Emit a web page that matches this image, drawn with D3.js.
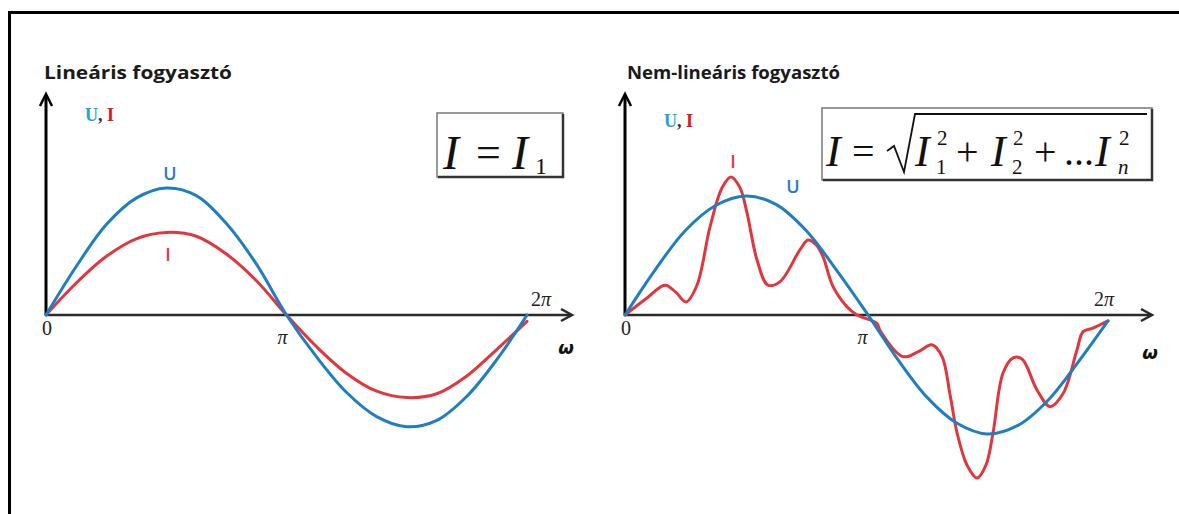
<!DOCTYPE html>
<html>
<head>
<meta charset="utf-8">
<script src="https://cdn.jsdelivr.net/npm/d3@7/dist/d3.min.js"></script>
<style>
  html, body { margin: 0; padding: 0; background: #fff; }
  svg { display: block; }
</style>
</head>
<body>
<script>
// Phase positions in multiples of π
const xTickValues = [0, 1, 2];
const xTickLabels = ["0", "π", "2π"];

// Linear load: voltage and current in phase
const linPhase = [0, 0.125, 0.25, 0.375, 0.5, 0.625, 0.75, 0.875, 1.0,
                  1.125, 1.25, 1.375, 1.5, 1.625, 1.75, 1.875, 2.0];
const linU = [0, 0.38, 0.71, 0.92, 1.0, 0.94, 0.72, 0.40, 0.0,
              -0.33, -0.61, -0.80, -0.88, -0.83, -0.64, -0.35, 0.0];
const linI = [0, 0.25, 0.46, 0.60, 0.65, 0.62, 0.48, 0.27, 0.0,
              -0.25, -0.46, -0.60, -0.65, -0.62, -0.48, -0.27, -0.05];

// Non-linear load: sinusoidal voltage, distorted current
const nonPhase = [0, 0.125, 0.25, 0.375, 0.5, 0.625, 0.75, 0.875, 1.0,
                  1.125, 1.25, 1.375, 1.5, 1.625, 1.75, 1.875, 2.0];
const nonU = [0, 0.38, 0.71, 0.92, 1.0, 0.93, 0.71, 0.38, 0.02,
              -0.36, -0.69, -0.91, -1.0, -0.93, -0.72, -0.40, -0.05];
const nonIPhase = [0, 0.083, 0.166, 0.211, 0.253, 0.298, 0.352, 0.402, 0.439,
                   0.476, 0.505, 0.547, 0.592, 0.642, 0.725, 0.758, 0.791, 0.820,
                   0.861, 0.919, 0.961, 1.043, 1.056, 1.151, 1.213, 1.271, 1.313,
                   1.346, 1.375, 1.416, 1.458, 1.495, 1.524, 1.565, 1.607, 1.644,
                   1.706, 1.760, 1.814, 1.872, 1.897, 1.938, 2.0];
const nonI = [0, 0.13, 0.25, 0.19, 0.11, 0.25, 0.74, 1.07, 1.16,
              1.07, 0.86, 0.46, 0.25, 0.28, 0.55, 0.63, 0.59, 0.49,
              0.24, 0.07, 0.0, -0.07, -0.13, -0.35, -0.31, -0.25, -0.35,
              -0.67, -0.99, -1.26, -1.37, -1.26, -0.99, -0.49, -0.36, -0.37,
              -0.63, -0.77, -0.66, -0.29, -0.14, -0.11, -0.05];

const W = 1179, H = 514;
const BLUE = "#1f7ec2", RED = "#e2363f", LBLUE = "#22a2d4";

const svg = d3.select("body").append("svg")
  .attr("width", W).attr("height", H);

// outer frame (open to the right and bottom)
svg.append("path")
  .attr("d", "M9.5,514 L9.5,12.5 L1179,12.5")
  .attr("fill", "none").attr("stroke", "#000").attr("stroke-width", 3);

const serif = "'Liberation Serif', 'Times New Roman', serif";

function panel(cfg) {
  const g = svg.append("g");
  const x = d3.scaleLinear().domain([0, 2]).range(cfg.xr);
  const y = d3.scaleLinear().domain([-1, 1]).range(cfg.yr);
  const x0 = x(0), y0 = y(0);

  // title
  g.append("text").attr("x", cfg.titleX).attr("y", 79)
    .attr("font-family", "'Open Sans', 'Noto Sans', sans-serif")
    .attr("font-weight", 700).attr("font-size", 17.5).attr("fill", "#1a1a1a")
    .attr("textLength", cfg.titleW).attr("lengthAdjust", "spacingAndGlyphs")
    .text(cfg.title);

  // axes
  g.append("line").attr("x1", x0).attr("y1", y0).attr("x2", x0).attr("y2", 96)
    .attr("stroke", "#000").attr("stroke-width", 3);
  g.append("path").attr("d", `M${x0 - 6},${106} L${x0},${94} L${x0 + 6},${106}`)
    .attr("fill", "none").attr("stroke", "#000").attr("stroke-width", 2.5);
  g.append("line").attr("x1", x0).attr("y1", y0).attr("x2", cfg.arrowX - 2).attr("y2", y0)
    .attr("stroke", "#2a2a2a").attr("stroke-width", 2.5);
  g.append("path").attr("d", `M${cfg.arrowX - 11},${y0 - 6} L${cfg.arrowX},${y0} L${cfg.arrowX - 11},${y0 + 6}`)
    .attr("fill", "none").attr("stroke", "#2a2a2a").attr("stroke-width", 2.5);

  // "U, I" axis label
  const ui = g.append("text").attr("x", x0 + 39).attr("y", cfg.uiY)
    .attr("font-family", serif).attr("font-weight", 700)
    .attr("font-size", 18);
  ui.append("tspan").attr("fill", LBLUE).text("U");
  ui.append("tspan").attr("fill", "#333").text(", ");
  ui.append("tspan").attr("fill", "#e0141c").text("I");

  // tick labels
  const tk = g.selectAll("text.tick").data(xTickValues).enter().append("text")
    .attr("class", "tick")
    .attr("font-family", serif).attr("font-size", 20)
    .attr("fill", "#222")
    .attr("text-anchor", "middle")
    .attr("x", (d, i) => x(d) + [1, -4, cfg.twoPiDx][i])
    .attr("y", (d, i) => y0 + [20, 29, -9][i]);
  tk.each(function (d, i) {
    const t = d3.select(this);
    const s = xTickLabels[i];
    if (s.startsWith("2")) {
      t.append("tspan").text("2");
      t.append("tspan").attr("font-style", "italic").text("π");
    } else {
      t.attr("font-style", s === "π" ? "italic" : "normal").text(s);
    }
  });

  // omega
  g.append("text").attr("x", cfg.omegaX).attr("y", cfg.omegaY)
    .attr("font-family", "'DejaVu Sans', sans-serif").attr("font-weight", 700)
    .attr("font-style", "italic").attr("font-size", 18).attr("fill", "#111")
    .attr("text-anchor", "middle").text("ω");

  // curves
  const line = d3.line().x(d => x(d[0])).y(d => y(d[1])).curve(d3.curveCatmullRom.alpha(0.5));
  g.append("path").datum(d3.zip(cfg.iPhase, cfg.iVals)).attr("d", line)
    .attr("fill", "none").attr("stroke", RED).attr("stroke-width", 3)
    .attr("stroke-linejoin", "round").attr("stroke-linecap", "round");
  g.append("path").datum(d3.zip(cfg.uPhase, cfg.uVals)).attr("d", line)
    .attr("fill", "none").attr("stroke", BLUE).attr("stroke-width", 3)
    .attr("stroke-linejoin", "round").attr("stroke-linecap", "round");

  // curve labels
  g.append("text").attr("x", cfg.uLab[0]).attr("y", cfg.uLab[1])
    .attr("font-family", "'Open Sans', sans-serif").attr("font-size", 18)
    .attr("font-weight", 600)
    .attr("fill", BLUE).attr("text-anchor", "middle").text("U");
  g.append("text").attr("x", cfg.iLab[0]).attr("y", cfg.iLab[1])
    .attr("font-family", "'Open Sans', sans-serif").attr("font-size", 18)
    .attr("font-weight", 600)
    .attr("fill", RED).attr("text-anchor", "middle").text("I");

  return g;
}

panel({
  title: "Lineáris fogyasztó", titleX: 44, titleW: 188,
  xr: [46, 527], yr: [442, 188], arrowX: 572, uiY: 121, twoPiDx: 14,
  omegaX: 566, omegaY: 354,
  uPhase: linPhase, uVals: linU, iPhase: linPhase, iVals: linI,
  uLab: [170, 180], iLab: [168, 261]
});

panel({
  title: "Nem-lineáris fogyasztó", titleX: 627, titleW: 213,
  xr: [625, 1108], yr: [434, 196], arrowX: 1152, uiY: 127, twoPiDx: -4,
  omegaX: 1150, omegaY: 359,
  uPhase: nonPhase, uVals: nonU, iPhase: nonIPhase, iVals: nonI,
  uLab: [793, 193], iLab: [733, 168]
});

// formula boxes
function box(x0, y0, w, h) {
  svg.append("rect").attr("x", x0).attr("y", y0).attr("width", w).attr("height", h)
    .attr("fill", "#fff").attr("stroke", "#777").attr("stroke-width", 1.5);
  svg.append("path").attr("d", `M${x0 + 1},${y0 + h} L${x0 + w},${y0 + h} L${x0 + w},${y0 + 1}`)
    .attr("fill", "none").attr("stroke", "#333").attr("stroke-width", 2.5);
}
function mtext(x, y, s, size, italic) {
  return svg.append("text").attr("x", x).attr("y", y)
    .attr("font-family", serif).attr("font-size", size)
    .attr("font-style", italic ? "italic" : "normal").attr("fill", "#111").text(s);
}

box(437, 113, 126, 64);
mtext(443, 169, "I", 48, true);
mtext(476, 167, "=", 44, false);
mtext(512, 169, "I", 48, true);
mtext(535, 174, "1", 24, false);

box(822, 108, 330, 72);
mtext(826, 166, "I", 44, true);
mtext(852, 165, "=", 40, false);
svg.append("path")
  .attr("d", "M887,151 L894,146 L904,172 L915,114 L1147,114")
  .attr("fill", "none").attr("stroke", "#111").attr("stroke-width", 1.8);
mtext(915, 166, "I", 44, true);
mtext(937, 145, "2", 21, false);
mtext(936, 174, "1", 21, false);
mtext(956, 165, "+", 40, false);
mtext(991, 166, "I", 44, true);
mtext(1013, 145, "2", 21, false);
mtext(1012, 174, "2", 21, false);
mtext(1034, 165, "+", 40, false);
mtext(1064, 165, "...", 40, false);
mtext(1095, 166, "I", 44, true);
mtext(1119, 145, "2", 21, false);
mtext(1118, 174, "n", 21, true);
</script>
</body>
</html>
